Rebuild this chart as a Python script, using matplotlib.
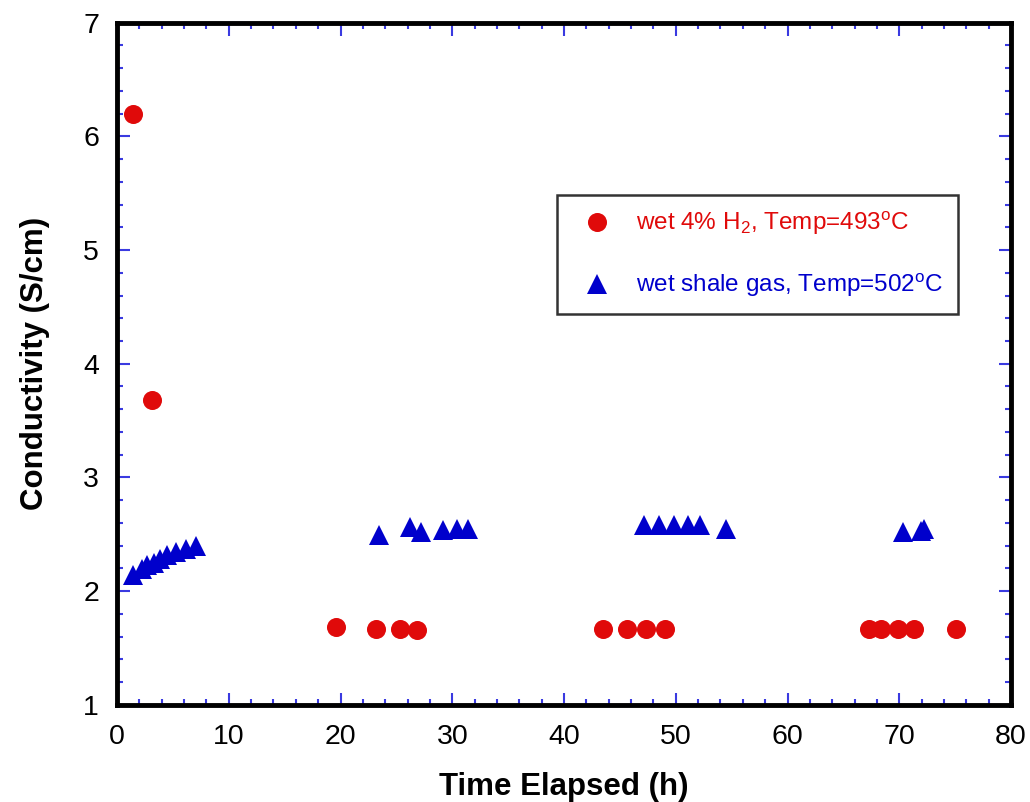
import matplotlib
matplotlib.use("Agg")
from matplotlib import pyplot as plt
from matplotlib.ticker import MultipleLocator
import numpy as np

plt.rcParams['font.family'] = ['Liberation Sans', 'DejaVu Sans']
plt.rcParams['mathtext.fontset'] = 'custom'
plt.rcParams['mathtext.rm'] = 'Liberation Sans'
plt.rcParams['mathtext.it'] = 'Liberation Sans'

# wet 4% H2 at 493 C
h2_time = [1.45, 3.15, 19.6, 23.2, 25.3, 26.8,
           43.5, 45.6, 47.3, 49.0,
           67.3, 68.4, 69.9, 71.3, 75.1]
h2_cond = [6.20, 3.68, 1.68, 1.67, 1.67, 1.66,
           1.67, 1.67, 1.67, 1.67,
           1.67, 1.67, 1.67, 1.67, 1.67]

# wet shale gas at 502 C
shale_time = [1.46, 2.2, 2.66, 3.34, 3.85, 4.45, 5.28, 6.15, 7.07,
              23.4, 26.2, 27.2, 29.2, 30.4, 31.4,
              47.2, 48.5, 49.8, 51.1, 52.2, 54.5,
              70.3, 71.9, 72.2]
shale_cond = [2.145, 2.195, 2.225, 2.25, 2.285, 2.32, 2.34, 2.37, 2.40,
              2.49, 2.565, 2.52, 2.54, 2.547, 2.547,
              2.58, 2.58, 2.58, 2.58, 2.58, 2.547,
              2.52, 2.53, 2.547]

red = '#e00a0a'
blue = '#0000cc'
tick_col = '#3a3ae0'

fig = plt.figure(figsize=(10.30, 8.02), dpi=100)
ax = fig.add_axes([0.1136, 0.1213, 0.868, 0.8504])

ax.plot(h2_time, h2_cond, 'o', color=red, markersize=13.7, markeredgewidth=0,
        label=r'wet 4% H$_2$, Temp=493$^{\rm o}$C')
ax.plot(shale_time, shale_cond, '^', color=blue, markersize=15, markeredgewidth=0,
        label=r'wet shale gas, Temp=502$^{\rm o}$C')

ax.set_xlim(0, 80)
ax.set_ylim(1, 7)
ax.xaxis.set_major_locator(MultipleLocator(10))
ax.xaxis.set_minor_locator(MultipleLocator(2))
ax.yaxis.set_major_locator(MultipleLocator(1))
ax.yaxis.set_minor_locator(MultipleLocator(0.2))
ax.tick_params(which='both', direction='in', top=True, right=True,
               color=tick_col, width=1.5, labelsize=20.5)
ax.tick_params(axis='x', pad=14)
ax.tick_params(axis='y', pad=13)
ax.tick_params(which='major', length=9)
ax.tick_params(which='minor', length=4.5)
for s in ax.spines.values():
    s.set_linewidth(3.5)

ax.set_xlabel('Time Elapsed (h)', fontsize=22.5, fontweight='bold', labelpad=16)
ax.set_ylabel('Conductivity (S/cm)', fontsize=22.5, fontweight='bold', labelpad=24)

leg = ax.legend(loc='upper left', bbox_to_anchor=(0.492, 0.747), fontsize=17.5,
                frameon=True, fancybox=False, edgecolor='black',
                handletextpad=0.55, borderpad=0.6, labelspacing=1.45,
                handlelength=2.1, borderaxespad=0)
leg.get_frame().set_linewidth(1.8)
for txt, c in zip(leg.get_texts(), [red, blue]):
    txt.set_color(c)

fig.savefig('out.png', dpi=100)
